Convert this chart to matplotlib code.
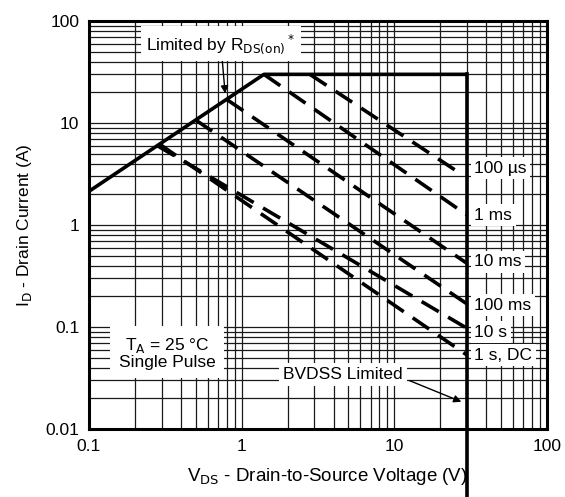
import matplotlib.pyplot as plt
from matplotlib.ticker import LogLocator, NullFormatter, FixedLocator, FixedFormatter

plt.rcParams['font.family'] = ['Liberation Sans', 'DejaVu Sans']

# R_DS(on) limit (solid) up to the package current limit, then BVDSS
rds_v = [0.1, 1.4]
rds_i = [2.14, 30]
current_limit_i = 30
bvdss_v = 30

# single pulse lines: start on the limit, end at BVDSS
pulse_labels = ["100 µs", "1 ms", "10 ms", "100 ms", "10 s", "1 s, DC"]
pulse_v_start = [2.8, 1.4, 0.8, 0.5, 0.28, 0.29]
pulse_i_start = [30, 30, 17, 10.7, 6.0, 6.2]
pulse_v_end = [28, 30, 30, 30, 30, 30]
pulse_i_end = [3.1, 1.25, 0.42, 0.168, 0.097, 0.053]
label_i = [3.6, 1.25, 0.434, 0.164, 0.089, 0.053]

x_ticks = [0.1, 1, 10, 100]
x_ticklabels = ["0.1", "1", "10", "100"]
y_ticks = [0.01, 0.1, 1, 10, 100]
y_ticklabels = ["0.01", "0.1", "1", "10", "100"]

FS = 12.5

fig = plt.figure(figsize=(5.65, 4.97), dpi=100)
ax = fig.add_axes([0.1575, 0.1368, 0.968 - 0.1575, 0.9577 - 0.1368])
ax.set_xscale('log')
ax.set_yscale('log')
ax.set_xlim(0.1, 100)
ax.set_ylim(0.01, 100)

ax.xaxis.set_major_locator(FixedLocator(x_ticks))
ax.xaxis.set_major_formatter(FixedFormatter(x_ticklabels))
ax.yaxis.set_major_locator(FixedLocator(y_ticks))
ax.yaxis.set_major_formatter(FixedFormatter(y_ticklabels))
ax.xaxis.set_minor_locator(LogLocator(base=10, subs=range(2, 10)))
ax.yaxis.set_minor_locator(LogLocator(base=10, subs=range(2, 10)))
ax.xaxis.set_minor_formatter(NullFormatter())
ax.yaxis.set_minor_formatter(NullFormatter())
ax.tick_params(which='both', length=0, labelsize=FS, pad=7)
ax.grid(True, which='both', color='#1a1a1a', linewidth=0.9)
for s in ax.spines.values():
    s.set_linewidth(2.2)

# safe operating limit
ax.plot(rds_v + [bvdss_v, bvdss_v], rds_i + [current_limit_i, current_limit_i],
        color='black', lw=2.6, solid_capstyle='butt', zorder=4)
ax.plot([bvdss_v, bvdss_v], [current_limit_i, 0.002], color='black', lw=2.6,
        clip_on=False, zorder=4)

for vs, is_, ve, ie in zip(pulse_v_start, pulse_i_start, pulse_v_end, pulse_i_end):
    ax.plot([vs, ve], [is_, ie], color='black', lw=2.6,
            linestyle=(0, (5.5, 3)), dash_capstyle='butt', zorder=4)

box = dict(facecolor='white', edgecolor='none', pad=2.5)
for lab, yi in zip(pulse_labels, label_i):
    ax.text(33.5, yi, lab, ha='left', va='center', fontsize=FS, bbox=box, zorder=5)

ax.annotate(r"Limited by R$_{\mathrm{DS(on)}}$$^*$", xy=(0.78, 19.5), xytext=(0.73, 60),
            ha='center', va='center', fontsize=FS,
            bbox=dict(facecolor='white', edgecolor='none', pad=4),
            arrowprops=dict(arrowstyle='-|>', color='black', lw=1, shrinkA=0, shrinkB=0,
                            mutation_scale=11), zorder=5)

ax.text(0.324, 0.0556, "T$_\\mathrm{A}$ = 25 °C\nSingle Pulse", ha='center', va='center',
        fontsize=FS, linespacing=1.0,
        bbox=dict(facecolor='white', edgecolor='none', pad=6), zorder=5)

ax.annotate("BVDSS Limited", xy=(27.5, 0.0185), xytext=(4.6, 0.034),
            ha='center', va='center', fontsize=FS,
            bbox=dict(facecolor='white', edgecolor='none', pad=3),
            arrowprops=dict(arrowstyle='-|>', color='black', lw=1, shrinkA=2, shrinkB=0,
                            mutation_scale=11, relpos=(1.0, 0.3)), zorder=5)

ax.set_xlabel("V$_\\mathrm{DS}$ - Drain-to-Source Voltage (V)", fontsize=13.5, labelpad=9)
ax.xaxis.set_label_coords(0.52, -0.09)
ax.set_ylabel("I$_\\mathrm{D}$ - Drain Current (A)", fontsize=FS, labelpad=8)

fig.savefig("out.png", dpi=100)
